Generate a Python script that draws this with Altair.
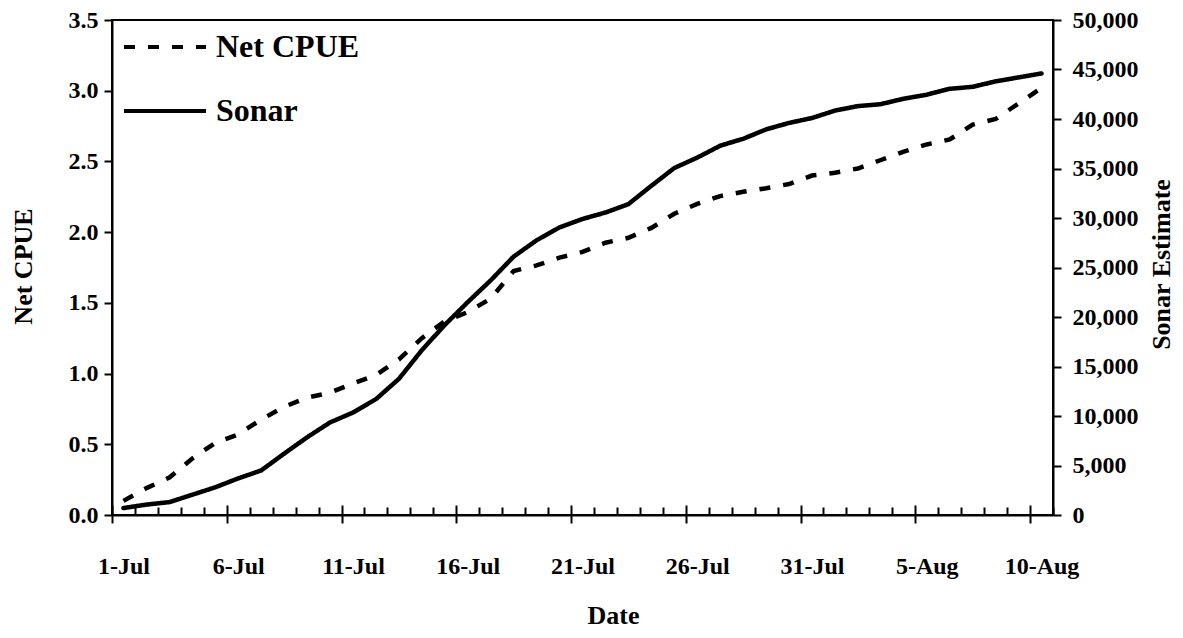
import json
import altair as alt
import pandas as pd

# ---- data ----
dates = [f"{d}-Jul" for d in range(1, 32)] + [f"{d}-Aug" for d in range(1, 11)]

net_cpue = [0.10, 0.19, 0.265, 0.40, 0.51, 0.57, 0.675, 0.765, 0.83, 0.865,
            0.93, 0.99, 1.10, 1.25, 1.37, 1.435, 1.53, 1.725, 1.765, 1.82,
            1.86, 1.925, 1.96, 2.03, 2.13, 2.20, 2.255, 2.285, 2.31, 2.34,
            2.40, 2.42, 2.45, 2.51, 2.57, 2.62, 2.655, 2.76, 2.80, 2.91, 3.02]

sonar = [700, 1050, 1300, 2050, 2800, 3700, 4500, 6200, 7850, 9350,
         10350, 11700, 13750, 16650, 19200, 21500, 23700, 26100, 27750, 29050,
         29900, 30550, 31400, 33250, 35050, 36100, 37300, 38000, 38950, 39600,
         40100, 40850, 41300, 41500, 42050, 42450, 43050, 43250, 43800, 44200, 44600]

series = ["Net CPUE", "Sonar"]
left_ticks = [0, 0.5, 1.0, 1.5, 2.0, 2.5, 3.0, 3.5]
right_ticks = [0, 5000, 10000, 15000, 20000, 25000, 30000, 35000, 40000, 45000, 50000]

# ---- tables ----
n = len(dates)
day = list(range(n))
net_df = pd.DataFrame({"day": day, "date": dates, "value": net_cpue, "series": series[0]})
sonar_df = pd.DataFrame({"day": day, "date": dates, "value": sonar, "series": series[1]})

W, H = 941, 495
FONT = "Liberation Serif"
bounds = [i - 0.5 for i in range(n + 1)]
major = [b for b in bounds if int(round(b + 0.5)) % 5 == 0 and b + 0.5 < n]
label_expr = f"{json.dumps(dates)}[round(datum.value + 0.5)]"

x_scale = alt.Scale(domain=[-0.5, n - 0.5], nice=False, zero=False)
dash_scale = alt.Scale(domain=series, range=[[11, 13], [1, 0]])

legend = alt.Legend(
    title=None, orient="none", legendX=10, legendY=-16,
    symbolType="stroke", symbolSize=6724, symbolStrokeWidth=4,
    symbolStrokeColor="black", labelFont=FONT, labelFontSize=32,
    labelFontWeight="bold", labelColor="black", labelOffset=8,
    rowPadding=5, padding=0,
)

net = alt.Chart(net_df).mark_line(color="black", strokeWidth=4.5, strokeCap="butt").encode(
    x=alt.X("day:Q", scale=x_scale, axis=alt.Axis(
        orient="bottom", values=major, labelExpr=label_expr, labelOffset=W / n / 2,
        tickSize=8, tickWidth=2, domainWidth=2, labelPadding=31, grid=False,
        labelAlign="center", title="Date", titleX=501, titleY=100,
        titleBaseline="middle", titleAlign="center")),
    y=alt.Y("value:Q", scale=alt.Scale(domain=[0, 3.5], nice=False), axis=alt.Axis(
        orient="left", values=left_ticks, format=".1f", tickSize=8, tickWidth=2,
        domainWidth=2, labelPadding=6, grid=False, title="Net CPUE",
        titleAngle=270, titleX=-89, titleY=246, titleAlign="center",
        titleBaseline="middle")),
    strokeDash=alt.StrokeDash("series:N", scale=dash_scale, legend=legend),
)

sonar_line = alt.Chart(sonar_df).mark_line(color="black", strokeWidth=4.5, strokeCap="round", strokeJoin="round").encode(
    x=alt.X("day:Q", scale=x_scale, axis=alt.Axis(
        orient="top", offset=-H, values=bounds, labels=False, domain=False,
        tickSize={"condition": {"test": "(datum.value + 0.5) % 5 == 0", "value": 10}, "value": 8},
        tickWidth=2, grid=False, title="")),
    y=alt.Y("value:Q", scale=alt.Scale(domain=[0, 50000], nice=False), axis=alt.Axis(
        orient="right", values=right_ticks, format=",d", tickSize=8, tickWidth=2,
        domainWidth=2, labelPadding=11, grid=False, title="Sonar Estimate",
        titleAngle=270, titleX=108, titleY=244, titleAlign="center",
        titleBaseline="middle")),
    strokeDash=alt.StrokeDash("series:N", scale=dash_scale, legend=legend),
)

chart = alt.layer(net, sonar_line).resolve_scale(y="independent").resolve_axis(x="independent").properties(
    width=W, height=H, background="white",
    autosize=alt.AutoSizeParams(type="none"),
    padding={"left": 104, "top": 12, "right": 122, "bottom": 115},
).configure_view(stroke="black", strokeWidth=2).configure_axis(
    labelFont=FONT, labelFontSize=24, labelFontWeight="bold", labelColor="black",
    titleFont=FONT, titleFontSize=26, titleFontWeight="bold", titleColor="black",
    domainColor="black", tickColor="black",
)

chart.save("out.html", embed_options={"renderer": "svg", "actions": False})
